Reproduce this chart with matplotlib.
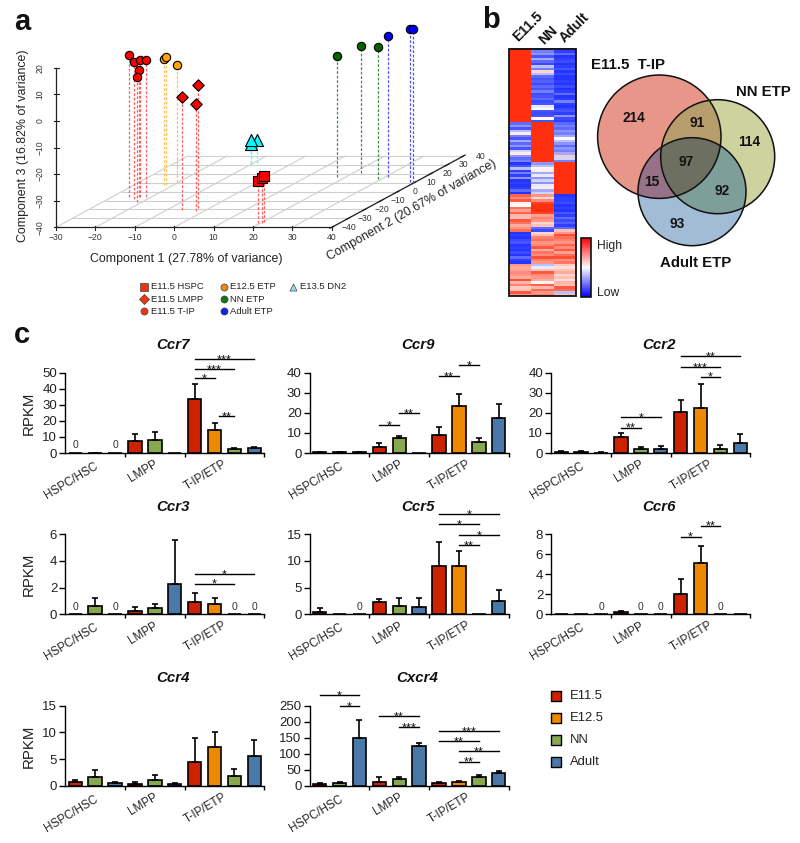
#!/usr/bin/env python3
"""Three panel figure: PCA scatter, heatmap with Venn diagram, RPKM bar charts."""

import numpy as np
import matplotlib
matplotlib.use('Agg')
import matplotlib.pyplot as plt
from matplotlib.colors import LinearSegmentedColormap
from matplotlib.patches import Circle, Rectangle

plt.rcParams['font.family'] = ['Liberation Sans', 'DejaVu Sans']

# ---- panel a data: component 1, 2, 3 ----
hspc_pts = [(19.5, -35.5, -24.0), (20.2, -34.8, -23.1), (20.2, -33.6, -22.7)]
lmpp_pts = [(-2.8, -18.7, 6.4), (-6.2, -20.6, 2.4), (-2.0, -21.7, 0.3)]
tip_pts = [(-25.5, -6.3, 13.4), (-23.4, -8.6, 11.5), (-22.8, -6.3, 11.6),
           (-21.3, -6.3, 11.5), (-23.0, -6.3, 8.0), (-21.4, -11.2, 7.0)]
etp125_pts = [(-22.3, 7.1, 7.4), (-21.8, 7.1, 8.1), (-20.4, 10.5, 4.1)]
nn_pts = [(17.8, 16.1, 5.6), (21.9, 21.3, 7.6), (29.0, 14.2, 9.5)]
adult_pts = [(30.6, 16.8, 13.0), (38.5, 11.2, 17.4), (39.6, 10.1, 17.6)]
dn2_pts = [(-9.4, 32.6, -31.5), (-10.7, 32.6, -33.0), (-10.9, 32.6, -31.5)]

pca_groups = [
    (tip_pts, 'o', '#ff0000', '#ff6060'),
    (etp125_pts, 'o', '#ffa500', '#ffc060'),
    (lmpp_pts, 'D', '#ff0000', '#ff6060'),
    (dn2_pts, '^', '#00ffff', '#50ffff'),
    (hspc_pts, 's', '#ff0000', '#ff6060'),
    (nn_pts, 'o', '#006400', '#409040'),
    (adult_pts, 'o', '#0000ff', '#5050ff'),
]
pca_sizes = {'o': 36, 'D': 34, 's': 50, '^': 75}

legend_a = [
    ('E11.5 HSPC', 's', '#ee3311', 144.3, 286.7), ('E11.5 LMPP', 'D', '#ee3311', 144.3, 299.0),
    ('E11.5 T-IP', 'o', '#ee3311', 144.3, 311.3), ('E12.5 ETP', 'o', '#e88a1a', 223.7, 286.7),
    ('NN ETP', 'o', '#0b7a0b', 223.7, 299.0), ('Adult ETP', 'o', '#1122dd', 223.7, 311.3),
    ('E13.5 DN2', '^', '#9fd8e8', 292.7, 286.7),
]

# ---- panel b data: heatmap rows for E11.5, NN, Adult ----
heat_e115 = [1, 1, 1, 1, 1, 1, 1, 1, 1, 1, 1, 1, 1, 1, 1, 1, 1, 1, 1, 1,
             1, 1, 1, 1, 1, 1, 1, 1, 1, 1,
             -.7, -.5, -.8, -.3, .1, -.6, -.8, -.4, -.7, -.5, -.8, -.2, .1, -.5, -.7, -.6,
             -.95, -.8, -.3, -.9, -.6, -.9, -.5, -.95, -.9, -.95, -.9, -.7, -.95,
             .75, .55, .8, .05, .02, .7, .45, .75, .35, .3, .8, .65, .4, .5, .7,
             -.95, -.9, -.95, -.85, -.8, -.95, -.9, -.95, -.85, -.95, -.7, -.9, -.95,
             .5, .4, .45, .55, .5, .4, .85, .35, .6, .25, .3, .8, .5]
heat_nn = [-.8, -.6, -.5, -.8, -.4, -.7, -.85, -.3, -.6, .2, -.3, -.7, -.8, -.75, -.85,
           -.7, -.8, -.6, -.85, -.8, -.7, -.85, -.8, -.1, .02, -.8, -.85, -.8, .02, -.8,
           1, 1, 1, 1, 1, 1, 1, 1, 1, 1, 1, 1, 1, 1, 1, 1,
           -.5, -.3, .05, .1, -.4, -.1, -.5, -.2, -.5, -.1, .1, -.4, -.2,
           .5, .2, .55, .9, 1, 1, 1, .9, .45, .6, .5, .2, .3, -.7, -.85,
           .2, .3, .6, .7, .5, .55, .8, .4, .65, .55, .85, .6, .5,
           -.3, -.1, .3, .8, .55, .5, .4, .05, .75, .35, .7, .5, .6]
heat_adult = [-.8, -.9, -.7, -.95, -.9, -.85, -.95, -.9, -.8, -.95, -.85, -.95, -.95, -.9, -.95,
              -.85, -.95, -.9, -.7, -.95, -.9, -.6, -.9, -.95, -.85, -.8, -.9, -.5, -.85, -.9,
              -.7, -.6, -.7, -.5, -.6, -.4, .02, -.3, -.5, -.7, -.5, -.6, -.4, .25, -.2, -.6,
              1, 1, 1, 1, 1, 1, 1, 1, 1, 1, 1, 1, 1,
              -.95, -.9, -.9, -.85, -.95, -.9, -.95, -.8, -.9, -.7, -.85, -.75, -.9, -.7, .3,
              .5, .85, .7, .6, .5, .75, .55, .8, .45, .7, .85, .55, .65,
              .25, .15, .3, .4, .2, .3, .15, .35, .3, .8, .7, -.3, .3]

venn_labels = ['214', '91', '114', '97', '15', '92', '93']
venn_label_xy = [(633.7, 117.7), (697.3, 122.7), (749.0, 142.0), (685.7, 162.3),
                 (651.7, 182.3), (722.0, 190.7), (677.0, 224.0)]

# ---- panel c data ----
colors = {'E11.5': '#cc2200', 'E12.5': '#ee8800', 'NN': '#88a850', 'Adult': '#4a78a8'}
bar_groups = ['E11.5', 'NN', 'Adult', 'E11.5', 'NN', 'Adult', 'E11.5', 'E12.5', 'NN', 'Adult']

ccr7_values = [0, 0.2, 0, 7.7, 8.0, 0.2, 33.5, 14.5, 2.3, 3.0]
ccr7_tops = [0, 0.3, 0, 11.6, 12.9, 0.2, 42.7, 18.7, 3.1, 3.5]
ccr7_zeros = [0, 2]
ccr7_sig = [(6, 9, 58.3, '***'), (6, 8, 52.3, '***'), (6, 7, 46.5, '*'), (7.22, 8, 23.0, '**')]

ccr9_values = [0.3, 0.5, 0.3, 3.0, 7.3, 0.2, 9.0, 23.2, 5.3, 17.2]
ccr9_tops = [0.4, 0.7, 0.4, 5.0, 8.7, 0.2, 13.0, 29.5, 7.5, 24.3]
ccr9_zeros = []
ccr9_sig = [(3, 4, 13.9, '*'), (4, 5, 19.7, '**'), (6, 7, 38.3, '**'), (7, 8, 43.8, '*')]

ccr2_values = [0.7, 0.6, 0.2, 8.0, 1.8, 1.8, 20.5, 22.5, 2.2, 5.0]
ccr2_tops = [0.9, 0.9, 0.3, 10.0, 2.8, 3.7, 26.3, 34.2, 3.9, 9.7]
ccr2_zeros = []
ccr2_sig = [(3, 5, 17.9, '*'), (3, 4, 12.6, '**'), (6, 9, 48.1, '**'), (6, 8, 42.8, '***'), (7, 8, 38.0, '*')]

ccr3_values = [0, 0.6, 0, 0.25, 0.5, 2.3, 0.95, 0.75, 0, 0]
ccr3_tops = [0, 1.2, 0, 0.57, 0.8, 5.55, 1.6, 1.22, 0, 0]
ccr3_zeros = [0, 2, 8, 9]
ccr3_sig = [(6, 9, 3.0, '*'), (6, 8, 2.3, '*')]

ccr5_values = [0.5, 0.1, 0, 2.4, 1.5, 1.3, 9.1, 9.0, 0.1, 2.5]
ccr5_tops = [1.2, 0.1, 0, 2.8, 3.1, 3.0, 13.6, 11.8, 0.1, 4.6]
ccr5_zeros = [2]
ccr5_sig = [(6, 9, 18.75, '*'), (6, 8, 16.9, '*'), (7, 9, 14.9, '*'), (7, 8, 13.0, '**')]

ccr6_values = [0.05, 0.05, 0, 0.25, 0, 0, 2.05, 5.1, 0, 0.05]
ccr6_tops = [0.05, 0.05, 0, 0.3, 0, 0, 3.5, 6.85, 0, 0.05]
ccr6_zeros = [2, 4, 5, 8]
ccr6_sig = [(6, 7, 7.76, '*'), (7, 8, 8.86, '**')]

ccr4_values = [0.8, 1.6, 0.5, 0.3, 1.1, 0.4, 4.5, 7.2, 1.9, 5.6]
ccr4_tops = [1.2, 2.9, 0.7, 0.7, 2.0, 0.5, 9.0, 10.1, 3.2, 8.5]
ccr4_zeros = []
ccr4_sig = []

cxcr4_values = [6, 10, 150, 12, 21, 126, 8, 12, 28, 40]
cxcr4_tops = [9, 11, 206, 27, 27, 133, 11, 16, 34, 46]
cxcr4_zeros = []
cxcr4_sig = [(0, 2, 283, '*'), (1, 2, 249, '*'), (3, 5, 219, '**'), (4, 5, 185, '***'),
             (6, 9, 171, '***'), (6, 8, 141, '**'), (7, 9, 109, '**'), (7, 8, 76, '**')]

# name, values, tops, zeros, sig, yticks, axis left/top/bottom in pixels
panels = [
    ('Ccr7', ccr7_values, ccr7_tops, ccr7_zeros, ccr7_sig, [0, 10, 20, 30, 40, 50], 65.3, 372.7, 453.0),
    ('Ccr9', ccr9_values, ccr9_tops, ccr9_zeros, ccr9_sig, [0, 10, 20, 30, 40], 309.7, 372.7, 453.0),
    ('Ccr2', ccr2_values, ccr2_tops, ccr2_zeros, ccr2_sig, [0, 10, 20, 30, 40], 551.3, 372.7, 453.0),
    ('Ccr3', ccr3_values, ccr3_tops, ccr3_zeros, ccr3_sig, [0, 2, 4, 6], 65.3, 534.3, 614.3),
    ('Ccr5', ccr5_values, ccr5_tops, ccr5_zeros, ccr5_sig, [0, 5, 10, 15], 309.7, 534.3, 614.3),
    ('Ccr6', ccr6_values, ccr6_tops, ccr6_zeros, ccr6_sig, [0, 2, 4, 6, 8], 551.3, 534.3, 614.3),
    ('Ccr4', ccr4_values, ccr4_tops, ccr4_zeros, ccr4_sig, [0, 5, 10, 15], 65.3, 705.7, 786.0),
    ('Cxcr4', cxcr4_values, cxcr4_tops, cxcr4_zeros, cxcr4_sig, [0, 50, 100, 150, 200, 250], 309.7, 706.0, 786.0),
]
group_names = ['HSPC/HSC', 'LMPP', 'T-IP/ETP']
group_label_offsets = [(6.4, 27.7), (78.0, 18.7), (139.7, 22.0)]

W, H = 800, 843


def project(x, y, z):
    """Map PCA coordinates to figure pixels (oblique 3D view)."""
    x, y, z = np.asarray(x, float), np.asarray(y, float), np.asarray(z, float)
    px = 56 + (x + 30) * 3.94 + (y + 40) * 1.645
    py = 227.3 - (y + 40) * 0.891 - (z + 40) * 2.66
    return px, py


def draw_pca(canvas):
    xt = np.arange(-30, 41, 10)
    yt = np.arange(-40, 41, 10)
    zt = np.arange(-40, 21, 10)

    # floor grid
    for v in xt[1:]:
        canvas.plot(*project([v, v], [-40, 40], [-40, -40]), color='#cfcfcf', lw=0.8, zorder=1)
    canvas.plot(*project([-30, -30], [-40, 40], [-40, -40]), color='#cfcfcf', lw=0.8, zorder=1)
    for v in yt[1:]:
        canvas.plot(*project([-30, 40], [v, v], [-40, -40]), color='#cfcfcf', lw=0.8, zorder=1)

    # axes
    axis_color = '#222222'
    canvas.plot(*project([-30, 40], [-40, -40], [-40, -40]), color=axis_color, lw=0.9, zorder=2)
    canvas.plot(*project([40, 40], [-40, 40], [-40, -40]), color=axis_color, lw=0.9, zorder=2)
    canvas.plot(*project([-30, -30], [-40, -40], [-40, 20]), color=axis_color, lw=0.9, zorder=2)
    for v in xt:
        px, py = project(v, -40, -40)
        canvas.plot([px, px], [py - 1, py + 3], color=axis_color, lw=0.8, zorder=2)
        canvas.text(px, py + 10, str(v).replace('-', '\u2212'), fontsize=6.2, color='#333333',
                    ha='center', va='center')
    for v in yt:
        px, py = project(40, v, -40)
        canvas.plot([px - 2, px + 2], [py + 1, py - 1], color=axis_color, lw=0.8, zorder=2)
        canvas.text(px + 17, py, str(v).replace('-', '\u2212'), fontsize=6.2, color='#333333',
                    ha='center', va='center')
    for v in zt:
        px, py = project(-30, -40, v)
        canvas.plot([px - 2.5, px + 2.5], [py, py], color=axis_color, lw=0.8, zorder=2)
        canvas.text(px - 16, py, str(v).replace('-', '\u2212'), fontsize=6.2, color='#333333',
                    ha='center', va='center', rotation=90)

    # drop lines then markers
    for pts, marker, face, line in pca_groups:
        for (x, y, z) in pts:
            canvas.plot(*project([x, x], [y, y], [-40, z]), color=line, lw=0.9,
                        ls=(0, (2.2, 1.4)), zorder=3)
    for pts, marker, face, line in pca_groups:
        arr = np.array(pts)
        px, py = project(arr[:, 0], arr[:, 1], arr[:, 2])
        canvas.scatter(px, py, s=pca_sizes[marker], marker=marker, c=face,
                       edgecolors='black', linewidths=0.8, zorder=4)

    canvas.text(186.7, 258.7, 'Component 1 (27.78% of variance)', fontsize=8.9,
                ha='center', va='center', color='#222222')
    canvas.text(23, 146, 'Component 3 (16.82% of variance)', fontsize=8.9, rotation=90,
                ha='center', va='center', color='#222222')
    canvas.text(412, 210, 'Component 2 (20.67% of variance)', fontsize=8.9, rotation=29.6,
                rotation_mode='anchor', ha='center', va='center', color='#222222')

    for label, marker, face, mx, my in legend_a:
        canvas.scatter([mx], [my], s=26, marker=marker, c=face, edgecolors='#444444',
                       linewidths=0.5, zorder=4)
        canvas.text(mx + 6.8, my, label, fontsize=6.8, va='center', ha='left', color='#222222')


def draw_heatmap(canvas):
    heat = np.array([heat_e115, heat_nn, heat_adult]).T
    cmap = LinearSegmentedColormap.from_list('bwr2', ['#1a2cff', '#ffffff', '#ff3010'])
    canvas.imshow(heat, cmap=cmap, vmin=-1, vmax=1, aspect='auto', interpolation='nearest',
                  extent=(509.3, 576, 296, 48.7), zorder=2)
    canvas.add_patch(Rectangle((509.3, 48.7), 66.7, 247.3, fc='none', ec='#111111', lw=1.3, zorder=3))

    bar_grad = np.linspace(1, -1, 128).reshape(-1, 1)
    canvas.imshow(bar_grad, cmap=LinearSegmentedColormap.from_list('cb', ['#0000ff', '#ffffff', '#ff0000']),
                  vmin=-1, vmax=1, aspect='auto', extent=(581, 591, 296.7, 237.7), zorder=2)
    canvas.add_patch(Rectangle((581, 237.7), 10, 59, fc='none', ec='#111111', lw=1.2, zorder=3))
    canvas.text(596.5, 246, 'High', fontsize=8.7, va='center', color='#222222')
    canvas.text(596.5, 293, 'Low', fontsize=8.7, va='center', color='#222222')

    for label, x, y in [('E11.5', 528, 27), ('NN', 548, 35), ('Adult', 574, 28)]:
        canvas.text(x, y, label, fontsize=10, fontweight='bold', rotation=45,
                    rotation_mode='anchor', ha='center', va='center', color='#111111')


def draw_venn(canvas):
    circles = [(659.3, 136.7, 61.7), (717.7, 156.7, 57.0), (692.0, 191.7, 54.0)]
    region_colors = {1: '#e9968a', 2: '#cdd29e', 4: '#a3bdd6', 3: '#b89c6c',
                     5: '#977188', 6: '#7f9e9b', 7: '#6e6f62'}
    xs = np.linspace(590, 780, 760)
    ys = np.linspace(70, 250, 720)
    gx, gy = np.meshgrid(xs, ys)
    code = np.zeros(gx.shape, int)
    for bit, (cx, cy, r) in enumerate(circles):
        code += ((gx - cx) ** 2 + (gy - cy) ** 2 <= r ** 2).astype(int) << bit
    rgba = np.zeros(gx.shape + (4,))
    for key, col in region_colors.items():
        rgba[code == key] = matplotlib.colors.to_rgba(col)
    canvas.imshow(rgba, aspect='auto', extent=(590, 780, 250, 70), zorder=2)
    for cx, cy, r in circles:
        canvas.add_patch(Circle((cx, cy), r, fc='none', ec='#111111', lw=1.1, zorder=3))
    for label, (x, y) in zip(venn_labels, venn_label_xy):
        canvas.text(x, y, label, fontsize=9.8, fontweight='bold', ha='center', va='center',
                    color='#111111', zorder=4)
    canvas.text(628, 65, 'E11.5  T-IP', fontsize=10.8, fontweight='bold', ha='center', va='center', color='#111111')
    canvas.text(763.3, 92.3, 'NN ETP', fontsize=10.8, fontweight='bold', ha='center', va='center', color='#111111')
    canvas.text(695.7, 262.7, 'Adult ETP', fontsize=10.8, fontweight='bold', ha='center', va='center', color='#111111')


def draw_bar_panel(fig, canvas, name, values, tops, zeros, sig, yticks, left, top, bottom):
    width = 199.0
    ax = fig.add_axes([left / W, 1 - bottom / H, width / W, (bottom - top) / H], zorder=2)
    ax.patch.set_alpha(0)
    slots = np.arange(10) + 0.5
    values = np.array(values, float)
    tops = np.array(tops, float)
    ax.bar(slots, values, width=0.67, color=[colors[g] for g in bar_groups],
           edgecolor='black', linewidth=1.2)
    for i in range(10):
        if tops[i] > values[i]:
            ax.errorbar(slots[i], values[i], yerr=[[0], [tops[i] - values[i]]], ecolor='black',
                        elinewidth=1.2, capsize=2.5, capthick=1.2, fmt='none')
    for i in zeros:
        ax.annotate('0', (slots[i], 0), xytext=(0, 5.6), textcoords='offset points',
                    ha='center', va='center', fontsize=7.5, color='#333333')
    for start, end, level, stars in sig:
        x0, x1 = start + 0.5, end + 0.5
        ax.plot([x0, x1], [level, level], color='black', lw=1.0, clip_on=False)
        ax.annotate(stars, ((x0 + x1) / 2, level), xytext=(0, -3), textcoords='offset points',
                    ha='center', va='baseline', fontsize=9.2, color='#111111', annotation_clip=False)

    ax.set_xlim(0, 10)
    ax.set_ylim(0, yticks[-1])
    ax.set_yticks(yticks)
    ax.set_xticks([3, 6, 10])
    ax.set_xticklabels([])
    ax.tick_params(axis='y', length=4.3, width=1.0, labelsize=9.5, pad=1.5, labelcolor='#222222')
    ax.tick_params(axis='x', length=3.1, width=1.0)
    ax.spines['top'].set_visible(False)
    ax.spines['right'].set_visible(False)
    ax.spines['left'].set_linewidth(1.0)
    ax.spines['bottom'].set_linewidth(1.0)

    canvas.text(left + 108, top - 27.5, name, fontsize=10.8, fontweight='bold', fontstyle='italic',
                ha='center', va='center', color='#111111')
    for label, (dx, dy) in zip(group_names, group_label_offsets):
        canvas.text(left + dx, bottom + dy, label, fontsize=8.4, rotation=31, rotation_mode='anchor',
                    ha='center', va='center', color='#222222')
    if left < 100:
        canvas.text(29, (top + bottom) / 2, 'RPKM', fontsize=10.8, rotation=90,
                    ha='center', va='center', color='#222222')


def main():
    fig = plt.figure(figsize=(W / 100, H / 100), dpi=100)
    canvas = fig.add_axes([0, 0, 1, 1], zorder=1)
    canvas.set_axis_off()

    draw_pca(canvas)
    draw_heatmap(canvas)
    draw_venn(canvas)

    for panel in panels:
        draw_bar_panel(fig, canvas, *panel)

    # shared bar legend
    for row, group in zip([696.0, 718.0, 740.0, 761.7], colors):
        canvas.scatter([556], [row], s=52, marker='s', c=colors[group], edgecolors='black', linewidths=1.0)
        canvas.text(570, row, group, fontsize=9.4, va='center', color='#222222')

    for letter, x, y in [('a', 22, 22), ('b', 491, 20), ('c', 22, 335)]:
        canvas.text(x, y, letter, fontsize=21, fontweight='bold', ha='center', va='center', color='#111111')

    canvas.set_xlim(0, W)
    canvas.set_ylim(H, 0)
    fig.savefig('out.png', dpi=100)
    plt.close(fig)


if __name__ == "__main__":
    main()
